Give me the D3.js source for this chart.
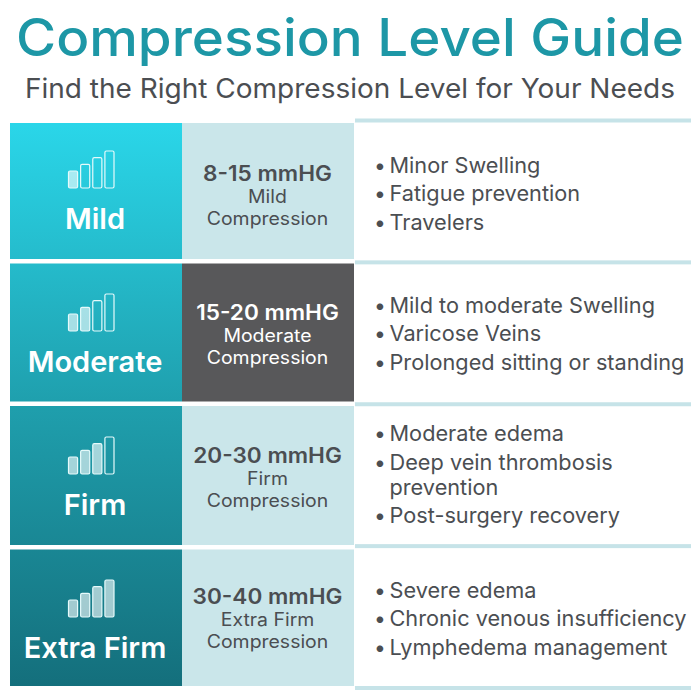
<!DOCTYPE html>
<html lang="en">
<head>
	<meta charset="UTF-8">
	<title>Compression Level Guide</title>
	<script src="https://d3js.org/d3.v7.min.js"></script>
	<style>
		html, body { margin: 0; padding: 0; background: #fff; }
		svg { display: block; }
		text { font-family: Inter, "Noto Sans", sans-serif; }
	</style>
</head>
<body>
	<script type="text/javascript">
		var levels = ["Mild", "Moderate", "Firm", "Extra Firm"];
		var ranges = ["8-15 mmHG", "15-20 mmHG", "20-30 mmHG", "30-40 mmHG"];
		var filledBars = [1, 2, 3, 4];
		var barSteps = [1, 2, 3, 4];
		var uses = [
			[["Minor Swelling"], ["Fatigue prevention"], ["Travelers"]],
			[["Mild to moderate Swelling"], ["Varicose Veins"], ["Prolonged sitting or standing"]],
			[["Moderate edema"], ["Deep vein thrombosis", "prevention"], ["Post-surgery recovery"]],
			[["Severe edema"], ["Chronic venous insufficiency"], ["Lymphedema management"]]
		];
		var highlighted = "Moderate";

		var w = 700;
		var h = 700;
		var dark = "#4b4e52";
		var pale = "#cae6ea";

		var svg = d3.select("body").append("svg").attr("width", w).attr("height", h);

		// the rows of the reference are not quite even
		var rowTop = d3.scaleOrdinal().domain(levels).range([123, 263.5, 406, 549.5]);
		var rowBottom = d3.scaleOrdinal().domain(levels).range([259, 401.5, 545, 686]);
		var iconBase = d3.scaleOrdinal().domain(levels).range([188, 331, 474, 617]);
		var labelBase = d3.scaleOrdinal().domain(levels).range([229, 371.5, 515, 658]);
		var rangeBase = d3.scaleOrdinal().domain(levels).range([181, 319.5, 463, 604]);
		var listMid = d3.scaleOrdinal().domain(levels).range([201, 341, 482, 626]);

		// Inter is a bit narrower than the reference's typeface, so stretch to fit
		function stretch(sel, factor) {
			sel.each(function(){
				this.setAttribute("textLength", this.getComputedTextLength() * factor);
				this.setAttribute("lengthAdjust", "spacingAndGlyphs");
			});
			return sel;
		}

		// one gradient running down the whole first column
		var grad = svg.append("defs").append("linearGradient")
			.attr("id", "teal").attr("gradientUnits", "userSpaceOnUse")
			.attr("x1", 0).attr("x2", 0).attr("y1", 123).attr("y2", 686);
		grad.append("stop").attr("offset", "0%").attr("stop-color", "#2ad6e9");
		grad.append("stop").attr("offset", "50%").attr("stop-color", "#1f9fad");
		grad.append("stop").attr("offset", "100%").attr("stop-color", "#146f7c");

		svg.append("text").text("Compression Level Guide")
			.attr("x", 350).attr("y", 56).attr("text-anchor", "middle")
			.attr("font-size", 52).attr("font-weight", 500).attr("fill", "#1d97a6")
			.attr("textLength", 668).attr("lengthAdjust", "spacingAndGlyphs");

		svg.append("text").text("Find the Right Compression Level for Your Needs")
			.attr("x", 350).attr("y", 98).attr("text-anchor", "middle")
			.attr("font-size", 27).attr("fill", dark)
			.attr("textLength", 650).attr("lengthAdjust", "spacingAndGlyphs");

		// pale rules of the right column
		var ruleScale = d3.scalePoint().domain(d3.range(5)).range([120.5, 688]);
		svg.selectAll(".rule").data(d3.range(5)).enter().append("rect")
			.attr("class", "rule")
			.attr("x", 355).attr("width", 336)
			.attr("y", function(d){ return ruleScale(d) - 2; })
			.attr("height", 4)
			.attr("fill", "#c6e3e8");

		var rows = svg.selectAll(".row").data(levels).enter().append("g")
			.attr("class", "row");

		rows.append("rect")
			.attr("x", 10).attr("width", 172)
			.attr("y", function(d){ return rowTop(d); })
			.attr("height", function(d){ return rowBottom(d) - rowTop(d); })
			.attr("fill", "url(#teal)");

		rows.append("rect")
			.attr("x", 182).attr("width", 172)
			.attr("y", function(d){ return rowTop(d); })
			.attr("height", function(d){ return rowBottom(d) - rowTop(d); })
			.attr("fill", function(d){ return d == highlighted ? "#58585a" : pale; });

		stretch(rows.append("text").text(function(d){ return d; })
			.attr("x", 95)
			.attr("y", function(d){ return labelBase(d); })
			.attr("text-anchor", "middle")
			.attr("font-size", 29).attr("font-weight", 600).attr("fill", "#fff"), 1);

		// signal bars icon
		var barX = d3.scaleBand().domain(barSteps).range([68.5, 114]).paddingInner(0.25);
		var barH = d3.scaleLinear().domain([1, 4]).range([17, 37]);
		rows.each(function(level, i){
			var bottom = iconBase(level);
			d3.select(this).selectAll(".bar").data(barSteps).enter().append("rect")
				.attr("class", "bar")
				.attr("x", function(d){ return barX(d); })
				.attr("width", barX.bandwidth())
				.attr("y", function(d){ return bottom - barH(d); })
				.attr("height", function(d){ return barH(d); })
				.attr("rx", 1.5)
				.attr("fill", function(d){ return d <= filledBars[i] ? "#fff" : "none"; })
				.attr("fill-opacity", 0.6)
				.attr("stroke", "#e6fafb").attr("stroke-width", 1.2);
		});

		stretch(rows.append("text").text(function(d, i){ return ranges[i]; })
			.attr("x", 267.5)
			.attr("y", function(d){ return rangeBase(d); })
			.attr("text-anchor", "middle")
			.attr("font-size", 21.5).attr("font-weight", 600)
			.attr("fill", function(d){ return d == highlighted ? "#fff" : dark; }), 1.05);

		stretch(rows.append("text").text(function(d){ return d; })
			.attr("x", 267.5)
			.attr("y", function(d){ return rangeBase(d) + 22; })
			.attr("text-anchor", "middle")
			.attr("font-size", 18)
			.attr("fill", function(d){ return d == highlighted ? "#fff" : dark; }), 1.08);

		stretch(rows.append("text").text("Compression")
			.attr("x", 267.5)
			.attr("y", function(d){ return rangeBase(d) + 44; })
			.attr("text-anchor", "middle")
			.attr("font-size", 18)
			.attr("fill", function(d){ return d == highlighted ? "#fff" : dark; }), 1.08);

		// bullet lists, centred on each row
		var lineGap = 28.5;
		var wrapGap = 25;
		rows.each(function(level, i){
			var g = d3.select(this);
			var total = d3.sum(uses[i], function(u){ return lineGap + (u.length - 1) * wrapGap; }) - lineGap;
			var y = listMid(level) - total / 2;
			uses[i].forEach(function(item){
				g.append("text").text("•")
					.attr("x", 374).attr("y", y)
					.attr("font-size", 21).attr("fill", dark);
				item.forEach(function(line, j){
					stretch(g.append("text").text(line)
						.attr("x", 389.5).attr("y", y + j * wrapGap)
						.attr("font-size", 21.5).attr("fill", dark), 1.01);
				});
				y += lineGap + (item.length - 1) * wrapGap;
			});
		});
	</script>
</body>
</html>
